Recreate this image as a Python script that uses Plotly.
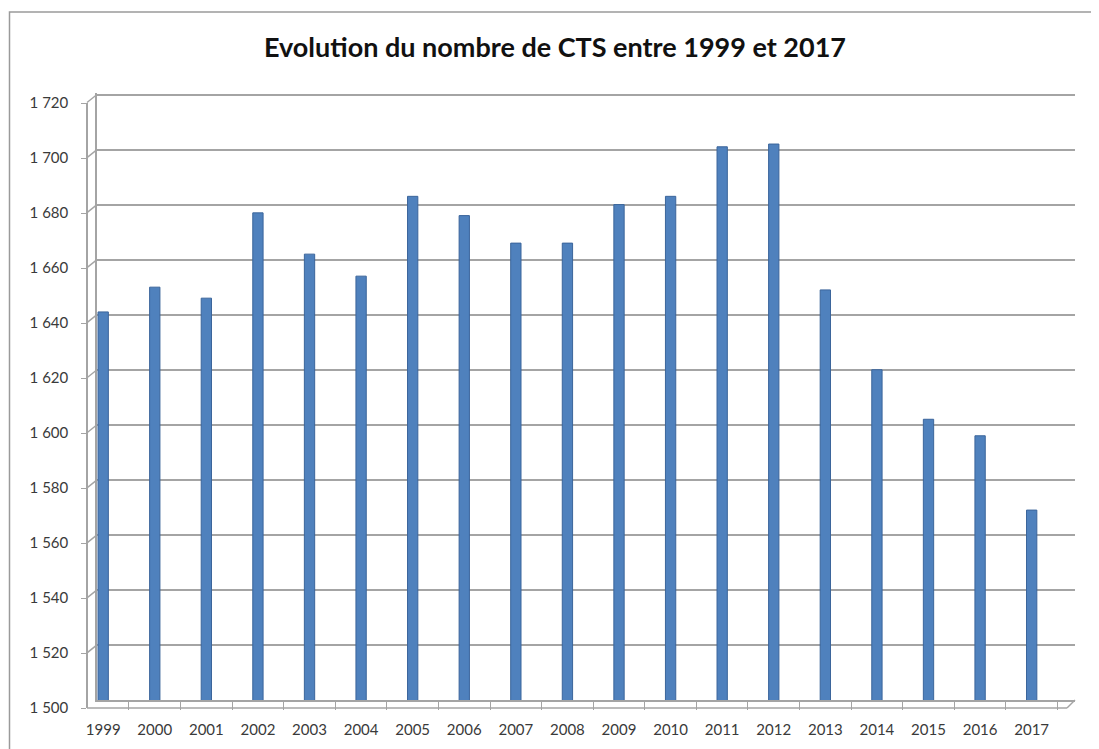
import plotly.graph_objects as go

years = ["1999", "2000", "2001", "2002", "2003", "2004", "2005", "2006", "2007", "2008",
         "2009", "2010", "2011", "2012", "2013", "2014", "2015", "2016", "2017"]
cts = [1641, 1650, 1646, 1677, 1662, 1654, 1683, 1676, 1666, 1666,
       1680, 1683, 1701, 1702, 1649, 1620, 1602, 1596, 1569]
y_ticks = [1500, 1520, 1540, 1560, 1580, 1600, 1620, 1640, 1660, 1680, 1700, 1720]
title_text = "Evolution du nombre de CTS entre 1999 et 2017"

W, H = 1099, 749
OFF = 8  # page body margin compensation
GRID = "#a4a4a4"
TXT = "#3a3a3a"
FONT = "Lato, 'Open Sans', sans-serif"

def px(x):
    return (x - OFF) / W

def py(y):
    return 1 - (y - OFF) / H

fig = go.Figure()
fig.add_trace(go.Bar(
    x=years, y=cts, width=0.2,
    marker=dict(color="#4f81bd", line=dict(color="#3b659b", width=1)),
    showlegend=False, hoverinfo="x+y",
))
# invisible companion trace for the front value axis
fig.add_trace(go.Scatter(
    x=years, y=cts, xaxis="x2", yaxis="y2", mode="markers",
    marker=dict(opacity=0), showlegend=False, hoverinfo="skip",
))

n = len(years)
depth_units = 8 / 2.752  # 3D depth offset in value units

shapes = [
    # outer chart border
    dict(type="rect", xref="paper", yref="paper",
         x0=px(9.5), x1=px(1115), y0=py(770), y1=py(12),
         line=dict(color="#9a9a9a", width=1.5)),
    # front floor edge
    dict(type="line", xref="paper", yref="paper",
         x0=px(87), x1=px(1067), y0=py(708), y1=py(708),
         line=dict(color=GRID, width=1.5)),
    dict(type="line", xref="paper", yref="paper",
         x0=px(1067), x1=px(1075), y0=py(708), y1=py(700),
         line=dict(color=GRID, width=1.5)),
]
# diagonal connectors between the front value axis and the back wall gridlines
for v in y_ticks:
    shapes.append(dict(type="line", xref="paper", yref="y",
                       x0=px(87), x1=px(97), y0=v - depth_units, y1=v,
                       line=dict(color=GRID, width=1.5)))

fig.update_layout(
    width=W, height=H,
    autosize=False,
    margin=dict(l=0, r=0, t=0, b=0, pad=0, autoexpand=False),
    paper_bgcolor="white", plot_bgcolor="rgba(0,0,0,0)",
    separators=", ",
    title=dict(text="<b>" + title_text + "</b>", x=px(555), xanchor="center",
               y=py(48), yanchor="middle", yref="container", automargin=False,
               font=dict(family=FONT, size=27, color="#111111")),
    xaxis=dict(
        domain=[px(97), px(1075)],
        type="category",
        range=[-0.12, n - 1 + 0.84],
        showgrid=False, automargin=False,
        showline=True, linecolor=GRID, linewidth=1.5,
        ticks="outside", tickson="boundaries", ticklen=8, tickcolor=GRID,
        tickfont=dict(family=FONT, size=15, color=TXT),
        ticklabelstandoff=15,
        anchor="y",
    ),
    yaxis=dict(
        domain=[py(700), py(93.4)],
        range=[1500, 1720.4],
        tickvals=y_ticks,
        showticklabels=False, automargin=False,
        showgrid=True, gridcolor=GRID, gridwidth=2,
        showline=True, linecolor=GRID, linewidth=1.5,
        zeroline=False,
        anchor="x",
    ),
    xaxis2=dict(
        domain=[px(97), px(1075)], type="category", automargin=False,
        range=[-0.12, n - 1 + 0.84], visible=False, anchor="y2",
    ),
    yaxis2=dict(
        domain=[py(708), py(103)],
        range=[1500, 1720],
        anchor="free", position=px(87), automargin=False,
        tickvals=y_ticks, tickformat=",d",
        showgrid=False, zeroline=False,
        showline=True, linecolor=GRID, linewidth=1.5,
        ticks="outside", ticklen=5, tickcolor=GRID,
        ticklabelstandoff=10,
        tickfont=dict(family=FONT, size=15, color=TXT),
    ),
    shapes=shapes,
)

fig.write_html("out.html")
